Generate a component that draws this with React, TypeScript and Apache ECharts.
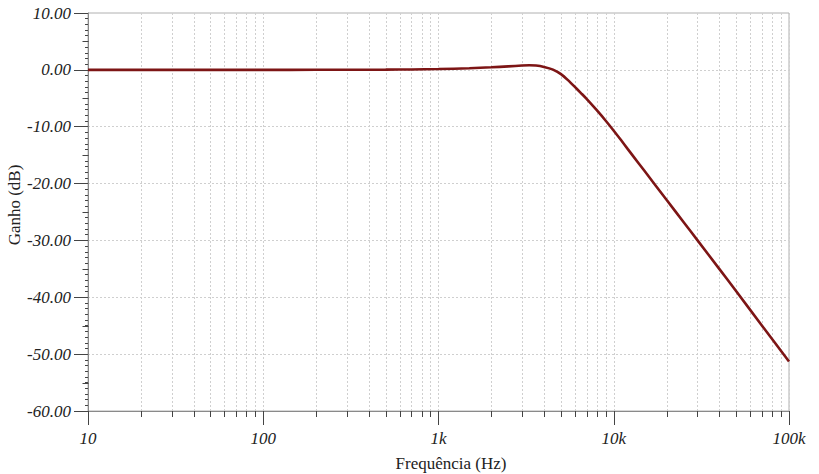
import React, { useEffect, useRef } from "react";
import * as echarts from "echarts";

// Frequency (Hz) and gain (dB)
const freqHz = [10, 20, 50, 100, 200, 300, 500, 700, 1000, 1500, 2000, 2500, 3000, 3300, 3600, 4000, 4500, 5000, 5500, 6000, 6500, 7000, 8000, 9000, 10000, 11000, 12000, 13000, 15000, 20000, 25000, 30000, 40000, 50000, 70000, 100000];
const gainDb = [0, 0, 0, 0, 0.01, 0.02, 0.04, 0.07, 0.14, 0.28, 0.45, 0.62, 0.76, 0.8, 0.76, 0.52, 0.05, -0.75, -1.85, -3.0, -4.08, -5.1, -7.1, -8.95, -10.7, -12.35, -13.9, -15.3, -17.8, -22.85, -26.75, -29.95, -35.0, -38.95, -44.95, -51.3];

const xTickLabels: Record<number, string> = { 10: "10", 100: "100", 1000: "1k", 10000: "10k", 100000: "100k" };
const decades = [10, 100, 1000, 10000];
const minorMultipliers = [2, 3, 4, 5, 6, 7, 8, 9];
const yMidTicks = [5, -5, -15, -25, -35, -45, -55];

const Y_MIN = -60;
const Y_MAX = 10;

export default function App() {
  const ref = useRef<HTMLDivElement>(null);
  useEffect(() => {
    if (!ref.current) return;
    const chart = echarts.init(ref.current, undefined, { renderer: "svg" });
    const minorFreqs: number[][] = [];
    decades.forEach((d) => minorMultipliers.forEach((m) => minorFreqs.push([d * m, Y_MIN])));
    const serif = "'Liberation Serif', 'Times New Roman', serif";
    chart.setOption({
      animation: false,
      backgroundColor: "#ffffff",
      grid: {
        left: 88,
        right: 30,
        top: 13,
        bottom: 63,
        containLabel: false,
        outerBoundsMode: "none",
        show: true,
        borderColor: "#b0b0b0",
        borderWidth: 1,
        backgroundColor: "transparent",
      },
      xAxis: {
        type: "log",
        logBase: 10,
        min: 10,
        max: 100000,
        name: "Frequência (Hz)",
        nameLocation: "middle",
        nameGap: 44,
        nameMoveOverlap: false,
        nameTextStyle: { fontFamily: serif, fontSize: 17, color: "#222", padding: [0, 0, 0, 25] },
        axisLine: { show: true, onZero: false, lineStyle: { color: "#8a8a8a", width: 1 } },
        axisTick: { show: true, length: 14, lineStyle: { color: "#444", width: 1 } },
        axisLabel: {
          fontFamily: serif,
          fontStyle: "italic",
          fontSize: 17,
          color: "#222",
          margin: 19,
          formatter: (v: number) => xTickLabels[Math.round(v)] ?? "",
        },
        splitLine: { show: true, lineStyle: { color: "#cfcfcf", type: [2, 2], width: 1 } },
      },
      yAxis: {
        type: "value",
        min: Y_MIN,
        max: Y_MAX,
        interval: 10,
        name: "Ganho (dB)",
        nameLocation: "middle",
        nameGap: 65,
        nameMoveOverlap: false,
        nameTextStyle: { fontFamily: serif, fontSize: 17, color: "#222", padding: [0, 0, 0, 14] },
        axisLine: { show: true, onZero: false, lineStyle: { color: "#8a8a8a", width: 1 } },
        axisTick: { show: true, length: 14, lineStyle: { color: "#444", width: 1 } },
        minorTick: { show: true, splitNumber: 10, length: 3, lineStyle: { color: "#444", width: 1 } },
        axisLabel: {
          fontFamily: serif,
          fontStyle: "italic",
          fontSize: 17,
          color: "#222",
          margin: 17,
          formatter: (v: number) => v.toFixed(2),
        },
        splitLine: { show: true, showMinLine: false, showMaxLine: false, lineStyle: { color: "#cfcfcf", type: [2, 2], width: 1 } },
      },
      series: [
        {
          type: "custom",
          coordinateSystem: "cartesian2d",
          clip: false,
          silent: true,
          z: 1,
          encode: { x: 0, y: 1 },
          data: minorFreqs,
          renderItem: (_params: any, api: any) => {
            const f = api.value(0);
            const top = api.coord([f, Y_MAX]);
            const bot = api.coord([f, Y_MIN]);
            const x = Math.round(bot[0]) + 0.5;
            return {
              type: "group",
              children: [
                { type: "line", shape: { x1: x, y1: top[1], x2: x, y2: bot[1] }, style: { stroke: "#cfcfcf", lineWidth: 1, lineDash: [2, 2] } },
                { type: "line", shape: { x1: x, y1: bot[1], x2: x, y2: bot[1] + 6 }, style: { stroke: "#444", lineWidth: 1 } },
              ],
            };
          },
        },
        {
          type: "custom",
          coordinateSystem: "cartesian2d",
          clip: false,
          silent: true,
          z: 1,
          encode: { x: 0, y: 1 },
          data: yMidTicks.map((v) => [10, v]),
          renderItem: (_params: any, api: any) => {
            const p = api.coord([api.value(0), api.value(1)]);
            const y = Math.round(p[1]) + 0.5;
            const x = Math.round(p[0]) + 0.5;
            return { type: "line", shape: { x1: x - 6, y1: y, x2: x, y2: y }, style: { stroke: "#444", lineWidth: 1 } };
          },
        },
        {
          type: "line",
          z: 3,
          data: freqHz.map((f, i) => [f, gainDb[i]]),
          showSymbol: false,
          symbol: "none",
          smooth: 0.25,
          lineStyle: { color: "#7d1515", width: 2.6 },
        },
      ],
    });
    return () => chart.dispose();
  }, []);
  return <div ref={ref} style={{ position: "fixed", left: 0, top: 0, width: 819, height: 474 }} />;
}
